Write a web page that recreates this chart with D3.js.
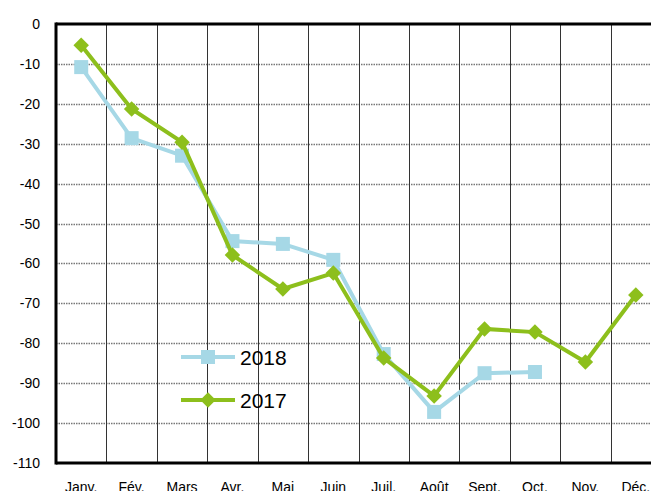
<!DOCTYPE html>
<html>
<head>
<meta charset="utf-8">
<script src="https://cdn.jsdelivr.net/npm/d3@7"></script>
<style>
  body { margin: 0; background: #fff; }
  svg { display: block; font-family: "Liberation Sans", Arial, sans-serif; }
</style>
</head>
<body>
<div class="content"></div>
<script>
var months = ["Janv.", "Fév.", "Mars", "Avr.", "Mai", "Juin", "Juil.", "Août", "Sept.", "Oct.", "Nov.", "Déc."];
var values2018 = [-10.8, -28.6, -33, -54.4, -55.1, -59.1, -82.7, -97.2, -87.5, -87.2];
var values2017 = [-5.3, -21.3, -29.6, -57.9, -66.4, -62.4, -83.7, -93.2, -76.4, -77.2, -84.7, -67.9];
var yTicks = [0, -10, -20, -30, -40, -50, -60, -70, -80, -90, -100, -110];

var width = 651, height = 491;
var plotLeft = 56, plotTop = 24, plotBottom = 463, plotRight = 661;

var svg = d3.select(".content").append("svg")
  .attr("width", width)
  .attr("height", height);

var x = d3.scaleBand().domain(months).range([plotLeft, plotRight]);
var y = d3.scaleLinear().domain([-110, 0]).range([plotBottom, plotTop]);

// horizontal dotted grid
svg.selectAll(".hgrid")
  .data(yTicks.filter(function(d) { return d != 0 && d != -110; }))
  .enter().append("line")
    .attr("x1", plotLeft).attr("x2", width)
    .attr("y1", function(d) { return Math.round(y(d)) + 0.5; })
    .attr("y2", function(d) { return Math.round(y(d)) + 0.5; })
    .attr("stroke", "#777")
    .attr("stroke-width", 1.5)
    .attr("stroke-dasharray", "1.5,1");

// vertical grid at band edges
svg.selectAll(".vgrid")
  .data(months.slice(1))
  .enter().append("line")
    .attr("x1", function(d) { return Math.round(x(d)) + 0.5; })
    .attr("x2", function(d) { return Math.round(x(d)) + 0.5; })
    .attr("y1", plotTop).attr("y2", plotBottom)
    .attr("stroke", "#333")
    .attr("stroke-width", 1);

// frame
svg.append("line").attr("x1", plotLeft).attr("x2", width).attr("y1", plotTop).attr("y2", plotTop)
  .attr("stroke", "#000").attr("stroke-width", 3);
svg.append("line").attr("x1", plotLeft).attr("x2", width).attr("y1", plotBottom).attr("y2", plotBottom)
  .attr("stroke", "#000").attr("stroke-width", 3);
svg.append("line").attr("x1", plotLeft).attr("x2", plotLeft).attr("y1", plotTop - 1.5).attr("y2", plotBottom + 1.5)
  .attr("stroke", "#000").attr("stroke-width", 3);

// y labels
svg.selectAll(".ylab")
  .data(yTicks)
  .enter().append("text")
    .attr("x", 40)
    .attr("y", function(d) { return y(d) + 5; })
    .attr("text-anchor", "end")
    .attr("font-size", 14)
    .attr("fill", "#000")
    .text(function(d) { return d; });

// x labels
svg.selectAll(".xlab")
  .data(months)
  .enter().append("text")
    .attr("x", function(d) { return x(d) + x.bandwidth() / 2; })
    .attr("y", 492)
    .attr("text-anchor", "middle")
    .attr("font-size", 14)
    .attr("fill", "#000")
    .text(function(d) { return d; });

var c2018 = "#a6d8e6", c2017 = "#8dbf1c";

var line = d3.line()
  .x(function(d, i) { return x(months[i]) + x.bandwidth() / 2; })
  .y(function(d) { return y(d); });

svg.append("path").datum(values2018)
  .attr("d", line).attr("fill", "none")
  .attr("stroke", c2018).attr("stroke-width", 4);
svg.selectAll(".m2018")
  .data(values2018)
  .enter().append("rect")
    .attr("x", function(d, i) { return x(months[i]) + x.bandwidth() / 2 - 7; })
    .attr("y", function(d) { return y(d) - 7; })
    .attr("width", 14).attr("height", 14)
    .attr("fill", c2018);

svg.append("path").datum(values2017)
  .attr("d", line).attr("fill", "none")
  .attr("stroke", c2017).attr("stroke-width", 4);
var diamond = d3.symbol().type(d3.symbolSquare).size(120);
svg.selectAll(".m2017")
  .data(values2017)
  .enter().append("path")
    .attr("d", diamond)
    .attr("transform", function(d, i) {
      return "translate(" + (x(months[i]) + x.bandwidth() / 2) + "," + y(d) + ") rotate(45)";
    })
    .attr("fill", c2017);

// legend
var legend = [{name: "2018", color: c2018, shape: "square", yy: 357},
              {name: "2017", color: c2017, shape: "diamond", yy: 400}];
var lg = svg.selectAll(".leg").data(legend).enter().append("g")
  .attr("transform", function(d) { return "translate(181," + d.yy + ")"; });
lg.append("line").attr("x1", 0).attr("x2", 54).attr("y1", 0).attr("y2", 0)
  .attr("stroke", function(d) { return d.color; }).attr("stroke-width", 4);
lg.filter(function(d) { return d.shape == "square"; }).append("rect")
  .attr("x", 20).attr("y", -7).attr("width", 14).attr("height", 14)
  .attr("fill", function(d) { return d.color; });
lg.filter(function(d) { return d.shape == "diamond"; }).append("path")
  .attr("d", diamond).attr("transform", "translate(27,0) rotate(45)")
  .attr("fill", function(d) { return d.color; });
lg.append("text").attr("x", 59).attr("y", 8)
  .attr("font-size", 21).attr("fill", "#000")
  .text(function(d) { return d.name; });
</script>
</body>
</html>
